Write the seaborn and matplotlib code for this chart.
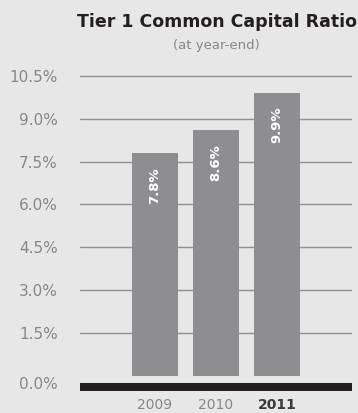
import matplotlib
matplotlib.use("Agg")
import matplotlib.pyplot as plt
import matplotlib.transforms as mtransforms
import seaborn as sns
import pandas as pd

# Chart data
years = ["2009", "2010", "2011"]
ratios = [7.8, 8.6, 9.9]
bar_labels = ["7.8%", "8.6%", "9.9%"]
ytick_values = [0.0, 1.5, 3.0, 4.5, 6.0, 7.5, 9.0, 10.5]
ytick_labels = ["0.0%", "1.5%", "3.0%", "4.5%", "6.0%", "7.5%", "9.0%", "10.5%"]

BG = "#e7e7e7"
BAR = "#8e8d8f"
DARK = "#231f20"
TICK = "#878787"
GRID = "#8f8f8f"

sns.set_theme(style="white")
plt.rcParams["font.family"] = ["DejaVu Sans"]

df = pd.DataFrame({"year": years, "ratio": ratios})

fig = plt.figure(figsize=(3.58, 4.13), dpi=100, facecolor=BG)
ax = fig.add_axes([80 / 358, 21 / 413, 272 / 358, 332 / 413])
ax.set_facecolor(BG)

sns.barplot(data=df, x="year", y="ratio", color=BAR, width=0.754,
            saturation=1, linewidth=0, edgecolor=BAR, ax=ax, zorder=3)

ax.set_xlim(-1.23, 3.23)
ax.set_ylim(-0.56, 11.05)

# Horizontal rules behind the bars
for v in ytick_values[1:]:
    ax.axhline(v, color=GRID, lw=1.0, zorder=1)

# Heavy baseline band
ax.axhspan(-0.52, -0.24, color=DARK, lw=0, zorder=4)

for s in ax.spines.values():
    s.set_visible(False)

ax.set_yticks(ytick_values)
ax.set_yticklabels(ytick_labels, fontsize=11, color=TICK)
ax.tick_params(axis="y", length=0, pad=16)
shift = mtransforms.ScaledTranslation(0, -7 / 100, fig.dpi_scale_trans)
lbl0 = ax.get_yticklabels()[0]
lbl0.set_transform(lbl0.get_transform() + shift)

ax.set_xticks(range(len(years)))
ax.set_xticklabels(years, fontsize=10, color=TICK)
ax.tick_params(axis="x", length=0, pad=4.5)
last = ax.get_xticklabels()[-1]
last.set_fontweight("bold")
last.set_color("#3a3a3a")
ax.set_xlabel("")
ax.set_ylabel("")

# Value labels inside the bars
for i, (v, t) in enumerate(zip(ratios, bar_labels)):
    ax.annotate(t, xy=(i, v), xytext=(0, -14), textcoords="offset pixels",
                rotation=90, ha="center", va="top", color="white",
                fontsize=9.5, fontweight="bold", zorder=5)

fig.text(217 / 358, 1 - 22 / 413, "Tier 1 Common Capital Ratio",
         ha="center", va="center", fontsize=12.5, fontweight="bold", color=DARK)
fig.text(216 / 358, 1 - 45 / 413, "(at year-end)",
         ha="center", va="center", fontsize=9.5, color=TICK)

fig.savefig("out.png", dpi=100, facecolor=BG)
